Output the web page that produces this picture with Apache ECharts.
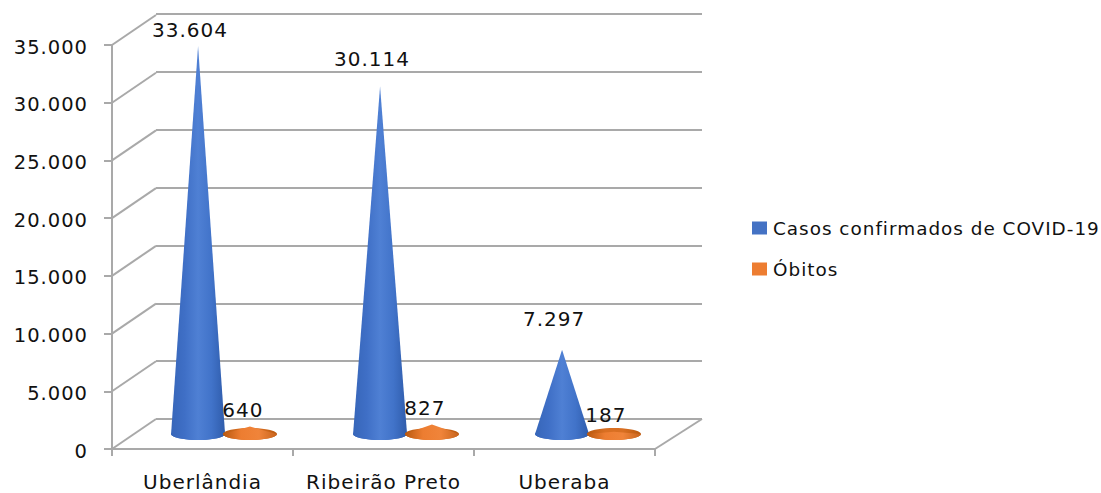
<!DOCTYPE html>
<html><head><meta charset="utf-8">
<style>html,body{margin:0;padding:0;background:#fff}#c{width:1101px;height:493px}#c text{letter-spacing:1px}</style>
<script src="https://cdn.jsdelivr.net/npm/echarts@6/dist/echarts.min.js"></script>
</head><body><div id="c"></div>
<script>
const categories = ['Uberlândia', 'Ribeirão Preto', 'Uberaba'];
const casos = [33604, 30114, 7297];
const obitos = [640, 827, 187];
const yTicks = [0, 5000, 10000, 15000, 20000, 25000, 30000, 35000];
const casosName = 'Casos confirmados de COVID-19';
const obitosName = 'Óbitos';
const casosLabelNudge = [[-8, -16], [-8, -27], [-8, -31]];
const obitosLabelNudge = [[-7, -17], [-7, -16], [-8, -17]];

const FONT = '"DejaVu Sans"';
const fmt = v => String(v).replace(/\B(?=(\d{3})+$)/g, '.');
const grey = '#a9a9a9';
const depth = [44, -30];

function grad(stops) {
  return { type: 'linear', x: 0, y: 0, x2: 1, y2: 0, colorStops: stops.map((c, i) => ({ offset: i / (stops.length - 1), color: c })) };
}
const blueFill = grad(['#3766b9', '#3f6fc6', '#4f80d4', '#4173c9', '#2f5cab']);
const orangeFill = grad(['#b9590f', '#ed7d31', '#f0843a', '#c8641c']);
const orangeBase = grad(['#b9590f', '#d96f22', '#d96f22', '#b9590f']);

function coneRenderer(shift, nudges, baseFill, fill) {
  return function (params, api) {
    const i = api.value(0);
    const v = api.value(1);
    const band = api.size([1, 0])[0];
    const base = api.coord([i, 0]);
    const top = api.coord([i, v]);
    const cx = base[0] + band * shift;
    const rx = 27, ry = 6;
    const ell = [], lower = [[cx, top[1]]];
    for (let k = 0; k <= 40; k++) {
      const a = Math.PI * 2 * k / 40;
      ell.push([cx + rx * Math.cos(a), base[1] + ry * Math.sin(a)]);
      if (k <= 20) lower.push([cx + rx * Math.cos(a), base[1] + ry * Math.sin(a)]);
    }
    const n = nudges[params.dataIndex];
    return {
      type: 'group',
      children: [
        { type: 'polygon', shape: { points: ell }, style: { fill: baseFill }, z2: 1 },
        { type: 'polygon', shape: { points: lower }, style: { fill: fill }, z2: 2 },
        { type: 'text', z2: 10, style: { text: fmt(v), x: cx + n[0], y: top[1] + n[1], align: 'center', verticalAlign: 'middle', font: '20px ' + FONT, fill: '#111' } }
      ]
    };
  };
}

const chart = echarts.init(document.getElementById('c'), null, { renderer: 'svg' });
chart.setOption({
  animation: false,
  backgroundColor: '#fff',
  grid: [
    { left: 112, width: 543, top: 45, height: 404 },   // front
    { left: 156, width: 546, top: 14, height: 405 },   // back wall
    { left: 134, width: 546, top: 30, height: 404 }    // plane of the cones
  ],
  legend: {
    left: 752, top: 219, padding: 0, orient: 'vertical', itemWidth: 15, itemHeight: 13, itemGap: 23,
    data: [
      { name: casosName, icon: 'rect', itemStyle: { color: '#4472C4' } },
      { name: obitosName, icon: 'rect', itemStyle: { color: '#ED7D31' } }
    ],
    textStyle: { fontFamily: FONT, fontSize: 18.4, color: '#111', padding: [0, 0, 0, 1] }
  },
  xAxis: [
    { gridIndex: 0, type: 'category', data: categories,
      axisLine: { lineStyle: { color: grey, width: 2 } },
      axisTick: { show: true, interval: 0, length: 7, lineStyle: { color: grey, width: 2 } },
      axisLabel: { interval: 0, hideOverlap: false, fontFamily: FONT, fontSize: 20, lineHeight: 16, color: '#111', margin: 25 } },
    { gridIndex: 1, type: 'category', data: categories, show: false },
    { gridIndex: 2, type: 'category', data: categories, show: false }
  ],
  yAxis: [
    { gridIndex: 0, type: 'value', min: 0, max: 35000, interval: 5000,
      axisLine: { show: true, lineStyle: { color: grey, width: 2 } },
      axisTick: { show: true, length: 8, lineStyle: { color: grey, width: 2 } },
      splitLine: { show: false },
      axisLabel: { fontFamily: FONT, fontSize: 19.5, color: '#111', margin: 24, verticalAlign: 'top', lineHeight: 4, formatter: v => fmt(v) } },
    { gridIndex: 1, type: 'value', min: 0, max: 35000, interval: 5000,
      axisLine: { show: false }, axisTick: { show: false }, axisLabel: { show: false },
      splitLine: { show: true, lineStyle: { color: grey, width: 2 } } },
    { gridIndex: 2, type: 'value', min: 0, max: 35000, interval: 5000, show: false, splitLine: { show: false } }
  ],
  series: [
    { type: 'custom', name: 'depth', xAxisIndex: 0, yAxisIndex: 0, silent: true, z: 1,
      data: yTicks.map(t => [0, t]),
      renderItem(params, api) {
        const cs = params.coordSys;
        const y = api.coord([0, api.value(1)])[1];
        const kids = [{ type: 'line', shape: { x1: cs.x, y1: y, x2: cs.x + depth[0], y2: y + depth[1] }, style: { stroke: grey, lineWidth: 2 } }];
        if (api.value(1) === 0) kids.push({ type: 'line', shape: { x1: cs.x + cs.width, y1: y, x2: cs.x + cs.width + 47, y2: y + depth[1] }, style: { stroke: grey, lineWidth: 2 } });
        return { type: 'group', children: kids };
      } },
    { type: 'custom', name: casosName, xAxisIndex: 2, yAxisIndex: 2, z: 3,
      data: casos.map((v, i) => [i, v]), encode: { x: 0, y: 1 },
      renderItem: coneRenderer(-0.148, casosLabelNudge, '#3a69bb', blueFill) },
    { type: 'custom', name: obitosName, xAxisIndex: 2, yAxisIndex: 2, z: 4,
      data: obitos.map((v, i) => [i, v]), encode: { x: 0, y: 1 },
      renderItem: coneRenderer(0.137, obitosLabelNudge, orangeBase, orangeFill) }
  ]
});
</script></body></html>
